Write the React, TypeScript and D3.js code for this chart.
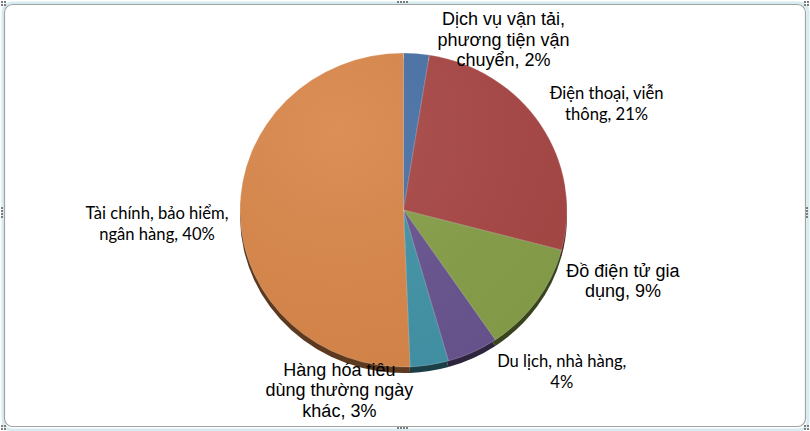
import React, { useEffect, useRef } from 'react';
import * as d3 from 'd3';

// slices go clockwise from 12 o'clock
const categories = [
	'Dịch vụ vận tải, phương tiện vận chuyển',
	'Điện thoại, viễn thông',
	'Đồ điện tử gia dụng',
	'Du lịch, nhà hàng',
	'Hàng hóa tiêu dùng thường ngày khác',
	'Tài chính, bảo hiểm, ngân hàng',
];
const shares = [2, 21, 9, 4, 3, 40];
const labelLines = [
	['Dịch vụ vận tải,', 'phương tiện vận', 'chuyển, 2%'],
	['Điện thoại, viễn', 'thông, 21%'],
	['Đồ điện tử gia', 'dụng, 9%'],
	['Du lịch, nhà hàng,', '4%'],
	['Hàng hóa tiêu', 'dùng thường ngày', 'khác, 3%'],
	['Tài chính, bảo hiểm,', 'ngân hàng, 40%'],
];
const sliceColors = ['#4a72a6', '#a84846', '#87a04a', '#6a5590', '#4394a8', '#d9874a'];
// true = Arial-like label, false = Calibri-like label
const labelArial = [true, false, true, false, true, false];
// label offset from the rim point at the slice's mid angle
const labelOffsets = [
	[87, -14],
	[66, -21],
	[86, -20],
	[89, 19],
	[-90, 25],
	[-83, 11],
];

const width = 810;
const height = 431;
const cx = 403.5;
const cy = 210;
const rx = 163.5;
const ry = 157;
const depth = 6;

const App: React.FC = () => {
	const ref = useRef<SVGSVGElement>(null);

	useEffect(() => {
		document.body.style.margin = '0';
		if (!ref.current) return;
		const svg = d3.select(ref.current);
		svg.selectAll('*').remove();

		// --- frame ---
		svg.append('rect').attr('width', width).attr('height', height).attr('fill', '#ffffff');
		svg
			.append('rect')
			.attr('x', 3)
			.attr('y', 3)
			.attr('width', width - 5)
			.attr('height', height - 4)
			.attr('rx', 9)
			.attr('fill', 'none')
			.attr('stroke', '#d6ecf0')
			.attr('stroke-width', 3);
		svg
			.append('rect')
			.attr('x', 4.5)
			.attr('y', 4.5)
			.attr('width', width - 9)
			.attr('height', height - 9)
			.attr('rx', 8)
			.attr('fill', '#ffffff')
			.attr('stroke', '#a3a3a3')
			.attr('stroke-width', 1.2);

		// grab handles
		const handle = svg.append('g').attr('fill', '#7d7d7d');
		const corners = [
			[1, 1],
			[width - 6, 1],
			[1, height - 6],
			[width - 6, height - 6],
		];
		corners.forEach(([x, y]) => {
			[0, 3].forEach((dx) =>
				[0, 3].forEach((dy) =>
					handle.append('rect').attr('x', x + dx).attr('y', y + dy).attr('width', 2).attr('height', 2),
				),
			);
		});
		[0, 1, 2, 3].forEach((i) => {
			handle.append('rect').attr('x', 397 + i * 3).attr('y', 1).attr('width', 2).attr('height', 2);
			handle.append('rect').attr('x', 397 + i * 3).attr('y', height - 4).attr('width', 2).attr('height', 2);
			handle.append('rect').attr('x', 1).attr('y', 207 + i * 3).attr('width', 2).attr('height', 2);
			handle.append('rect').attr('x', width - 4).attr('y', 207 + i * 3).attr('width', 2).attr('height', 2);
		});

		// --- pie ---
		const pie = d3
			.pie<number>()
			.value((d) => d)
			.sort(null);
		const slices = pie(shares);
		const arc = d3.arc<d3.PieArcDatum<number>>().innerRadius(0).outerRadius(rx);
		const scaleY = ry / rx;

		// side (depth) of the 3D pie
		svg
			.append('g')
			.attr('transform', `translate(${cx},${cy + depth}) scale(1,${scaleY})`)
			.selectAll('path')
			.data(slices)
			.enter()
			.append('path')
			.attr('d', arc)
			.attr('fill', (d) => d3.color(sliceColors[d.index])!.darker(2.4).toString());

		const defs = svg.append('defs');
		const grad = defs
			.append('radialGradient')
			.attr('id', 'shine')
			.attr('cx', '30%')
			.attr('cy', '25%')
			.attr('r', '85%');
		grad.append('stop').attr('offset', '0%').attr('stop-color', '#ffffff').attr('stop-opacity', 0.07);
		grad.append('stop').attr('offset', '100%').attr('stop-color', '#000000').attr('stop-opacity', 0.04);

		const top = svg.append('g').attr('transform', `translate(${cx},${cy}) scale(1,${scaleY})`);
		top
			.selectAll('path')
			.data(slices)
			.enter()
			.append('path')
			.attr('d', arc)
			.attr('fill', (d) => sliceColors[d.index])
			.attr('stroke', 'rgba(255,255,255,0.35)')
			.attr('stroke-width', 0.6)
			.append('title')
			.text((d) => categories[d.index]);
		top.append('circle').attr('r', rx).attr('fill', 'url(#shine)');

		// --- labels ---
		slices.forEach((d, i) => {
			const mid = (d.startAngle + d.endAngle) / 2;
			const px = cx + rx * Math.sin(mid) + labelOffsets[i][0];
			const py = cy - ry * Math.cos(mid) + labelOffsets[i][1];
			const arial = labelArial[i];
			const fs = arial ? 18 : 16.6;
			const lh = arial ? 20.5 : 21;
			const lines = labelLines[i];
			const t = svg
				.append('text')
				.attr('text-anchor', 'middle')
				.attr('font-family', arial ? '"Liberation Sans", Arial, sans-serif' : 'Lato, "Open Sans", sans-serif')
				.attr('font-size', fs)
				.attr('fill', '#000000');
			lines.forEach((line, j) => {
				t.append('tspan')
					.attr('x', px)
					.attr('y', py + (j - (lines.length - 1) / 2) * lh + 0.35 * fs)
					.text(line);
			});
		});
	}, []);

	return <svg ref={ref} width={width} height={height} style={{ display: 'block' }} />;
};

export default App;
